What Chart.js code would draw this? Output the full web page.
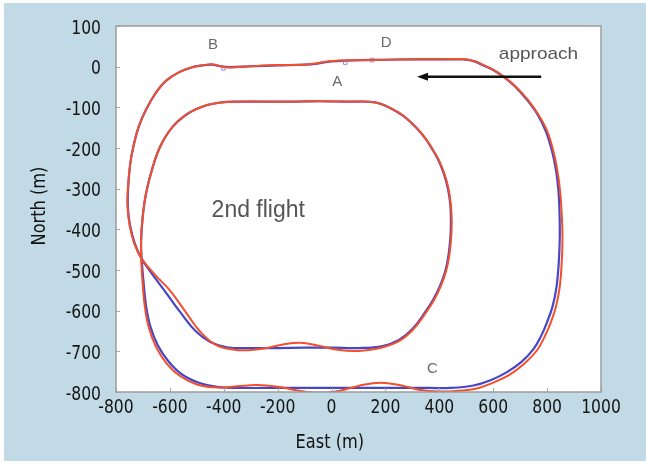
<!DOCTYPE html>
<html><head><meta charset="utf-8">
<script src="https://cdn.jsdelivr.net/npm/chart.js@4.4.1/dist/chart.umd.min.js"></script>
<style>html,body{margin:0;padding:0;background:#fff;}</style>
</head><body>
<canvas id="c" width="646" height="463"></canvas>
<script>
const xTickValues = [-800, -600, -400, -200, 0, 200, 400, 600, 800, 1000];
const yTickValues = [100, 0, -100, -200, -300, -400, -500, -600, -700, -800];

const blueEast = [
  490,400,300,200,100,0,-60,-100,-200,-300,-380,-420,-443,-480,-520,
  -567,-615,-654,-688,-716,-735,-747,-755,-756,-748,-730,-705,
  -660,-612,-560,-505,-450,-389,-300,-200,-100,0,100,
  190,250,300,348,378,402,422,434,441,443,441,432,415,395,373,345,311,270,224,162,
  60,-50,-150,-250,-350,-410,-470,-530,-590,
  -635,-665,-688,-701,-707,-704,-697,-688,-672,-645,-605,-555,-490,-420,
  -340,-240,-140,-40,60,160,260,360,440,
  527,590,651,705,750,778,800,820,834,843,847,846,842,833,818,796,765,726,680,639,600,564,530,490
];
const blueNorth = [
  18,18,18,17,16,13,7,5,3,1,-1,2,5,3,-2,
  -14,-35,-66,-105,-148,-195,-238,-300,-345,-390,-435,-472,
  -515,-558,-605,-650,-677,-690,-692,-692,-691,-691,-692,
  -687,-672,-645,-603,-572,-540,-503,-464,-420,-380,-341,-300,-260,-228,-202,-174,-148,-123,-104,-88,
  -86,-85,-86,-86,-86,-88,-96,-114,-148,
  -195,-250,-310,-370,-430,-480,-535,-590,-640,-685,-725,-757,-778,-788,
  -790,-790,-790,-790,-790,-790,-790,-790,-790,
  -784,-771,-751,-726,-694,-662,-628,-590,-546,-485,-420,-360,-305,-255,-207,-160,-118,-82,-48,-25,-8,3,13,18
];

const redEast = [
  490,400,300,200,100,0,-60,-100,-200,-300,-380,-420,-443,-480,-520,
  -567,-615,-654,-688,-716,-735,-747,-756,-757,-749,-731,-705,
  -655,-600,-545,-490,-430,-360,-300,-240,-180,-117,-50,30,100,
  180,250,302,350,381,405,425,437,444,446,443,434,417,397,374,346,312,271,225,163,
  60,-50,-150,-250,-350,-410,-470,-530,-590,
  -635,-665,-688,-701,-707,-706,-701,-693,-678,-652,-612,-560,-497,-420,
  -350,-277,-200,-120,-42,30,100,181,260,330,400,470,
  535,600,660,716,762,790,812,832,846,854,857,854,848,838,823,800,768,728,682,640,601,565,530,490
];
const redNorth = [
  19,18,18,17,16,14,8,5,4,1,-2,2,6,3,-2,
  -14,-35,-66,-105,-148,-195,-238,-300,-345,-392,-437,-472,
  -512,-550,-600,-650,-684,-696,-697,-692,-683,-679,-686,-697,-699,
  -692,-675,-647,-605,-573,-540,-503,-464,-420,-380,-341,-300,-260,-228,-202,-174,-148,-123,-104,-88,
  -86,-85,-86,-86,-86,-88,-96,-114,-148,
  -195,-250,-310,-370,-430,-480,-535,-590,-642,-688,-730,-762,-782,-789,
  -786,-783,-787,-797,-802,-797,-785,-777,-784,-795,-799,-797,
  -792,-777,-758,-730,-698,-665,-632,-592,-546,-485,-420,-360,-305,-255,-207,-158,-118,-81,-48,-25,-8,4,14,19
];

const markerEast = [-401, 51, 150];
const markerNorth = [-4, 10, 16];

const pointLabels = ['B', 'D', 'A', 'C'];
const pointLabelEast = [-440, 203, 21, 374];
const pointLabelNorth = [53, 58, -38, -742];

const flightLabel = '2nd flight';
const flightLabelEast = -272, flightLabelNorth = -353;
const approachLabel = 'approach';
const approachEast = 768, approachNorth = 31;
const arrowFromEast = 778, arrowToEast = 317, arrowNorth = -25;

const xTitle = 'East (m)';
const yTitle = 'North (m)';

const AXFONT = '"DejaVu Sans", sans-serif';

function pts(xs, ys) { return xs.map((x, i) => ({ x: x, y: ys[i] })); }

function narrowText(ctx, text, x, y, sx) {
  ctx.save();
  ctx.translate(x, y);
  ctx.scale(sx, 1);
  ctx.fillText(text, 0, 0);
  ctx.restore();
}

const bgPlugin = {
  id: 'bg',
  beforeDraw(chart) {
    const ctx = chart.ctx, a = chart.chartArea;
    ctx.save();
    ctx.fillStyle = '#ffffff';
    ctx.fillRect(0, 0, chart.width, chart.height);
    ctx.fillStyle = '#c2d9e6';
    ctx.fillRect(4, 3, chart.width - 4, chart.height - 5);
    ctx.fillStyle = '#ffffff';
    ctx.fillRect(a.left, a.top, a.right - a.left, a.bottom - a.top);
    ctx.restore();
  }
};

const framePlugin = {
  id: 'frame',
  afterDatasetsDraw(chart) {
    const ctx = chart.ctx, a = chart.chartArea;
    const xs = chart.scales.x, ys = chart.scales.y;
    ctx.save();
    // inward tick marks
    ctx.strokeStyle = '#a8a8a8';
    ctx.lineWidth = 1;
    xs.ticks.forEach(t => {
      const px = Math.round(xs.getPixelForValue(t.value)) + 0.5;
      ctx.beginPath(); ctx.moveTo(px, a.bottom); ctx.lineTo(px, a.bottom - 4); ctx.stroke();
    });
    ys.ticks.forEach(t => {
      const py = Math.round(ys.getPixelForValue(t.value)) + 0.5;
      ctx.beginPath(); ctx.moveTo(a.left, py); ctx.lineTo(a.left + 4, py); ctx.stroke();
    });
    // frame
    ctx.strokeStyle = '#9c9c9c';
    ctx.lineWidth = 1.5;
    ctx.strokeRect(a.left, a.top, a.right - a.left, a.bottom - a.top);

    // tick labels (condensed look)
    ctx.fillStyle = '#151515';
    ctx.font = '19px ' + AXFONT;
    ctx.textBaseline = 'alphabetic';
    ctx.textAlign = 'center';
    xs.ticks.forEach(t => {
      narrowText(ctx, String(t.value), xs.getPixelForValue(t.value), a.bottom + 21, 0.82);
    });
    ctx.textAlign = 'right';
    ys.ticks.forEach(t => {
      narrowText(ctx, String(t.value), a.left - 15, ys.getPixelForValue(t.value) + 7.5, 0.82);
    });

    // point labels
    ctx.fillStyle = '#6a6a6a';
    ctx.font = '15px "Liberation Sans", Arial, sans-serif';
    ctx.textAlign = 'center';
    ctx.textBaseline = 'middle';
    pointLabels.forEach((t, i) => {
      ctx.fillText(t, xs.getPixelForValue(pointLabelEast[i]), ys.getPixelForValue(pointLabelNorth[i]));
    });
    // approach
    ctx.fillStyle = '#555555';
    ctx.font = '17px "Liberation Sans", Arial, sans-serif';
    narrowText(ctx, approachLabel, xs.getPixelForValue(approachEast), ys.getPixelForValue(approachNorth), 1.12);
    // 2nd flight
    ctx.font = '23px "Liberation Sans", Arial, sans-serif';
    ctx.fillText(flightLabel, xs.getPixelForValue(flightLabelEast), ys.getPixelForValue(flightLabelNorth));
    // arrow
    const x1 = xs.getPixelForValue(arrowFromEast), x2 = xs.getPixelForValue(arrowToEast), ay = ys.getPixelForValue(arrowNorth);
    ctx.strokeStyle = '#111111';
    ctx.fillStyle = '#111111';
    ctx.lineWidth = 2.5;
    ctx.beginPath(); ctx.moveTo(x1, ay); ctx.lineTo(x2 + 8, ay); ctx.stroke();
    ctx.beginPath(); ctx.moveTo(x2, ay); ctx.lineTo(x2 + 11, ay - 4); ctx.lineTo(x2 + 11, ay + 4); ctx.closePath(); ctx.fill();

    // axis titles
    ctx.fillStyle = '#111111';
    ctx.font = '20px ' + AXFONT;
    ctx.textAlign = 'center';
    ctx.textBaseline = 'alphabetic';
    narrowText(ctx, xTitle, a.left + (a.right - a.left) * 0.441, 448, 0.81);
    ctx.save();
    ctx.translate(45, (a.top + a.bottom) / 2 - 3);
    ctx.rotate(-Math.PI / 2);
    narrowText(ctx, yTitle, 0, 0, 0.81);
    ctx.restore();
    ctx.restore();
  }
};

new Chart(document.getElementById('c'), {
  type: 'scatter',
  data: {
    datasets: [
      { label: 'red', data: pts(redEast, redNorth), showLine: true, borderColor: '#f2502c', borderWidth: 2, pointRadius: 0, tension: 0.4, fill: false },
      { label: 'markers', data: pts(markerEast, markerNorth), showLine: false, pointStyle: 'rect', pointRadius: 2.5, borderColor: '#8c8ce0', backgroundColor: 'rgba(255,255,255,0)', borderWidth: 1 },
      { label: 'blue', data: pts(blueEast, blueNorth), showLine: true, borderColor: '#4646c8', borderWidth: 2.2, pointRadius: 0, tension: 0.4, fill: false }
    ]
  },
  options: {
    responsive: false,
    animation: false,
    devicePixelRatio: 1,
    layout: { padding: { top: 26, right: 45, bottom: 0, left: 0 } },
    plugins: { legend: { display: false }, tooltip: { enabled: false } },
    scales: {
      x: {
        type: 'linear', min: -800, max: 1000,
        afterBuildTicks(s) { s.ticks = xTickValues.map(v => ({ value: v })); },
        afterFit(s) { s.height = 71; },
        grid: { display: false }, border: { display: false },
        ticks: { display: false }
      },
      y: {
        type: 'linear', min: -800, max: 100,
        afterBuildTicks(s) { s.ticks = yTickValues.map(v => ({ value: v })); },
        afterFit(s) { s.width = 116; },
        grid: { display: false }, border: { display: false },
        ticks: { display: false }
      }
    }
  },
  plugins: [bgPlugin, framePlugin]
});
</script>
</body></html>
